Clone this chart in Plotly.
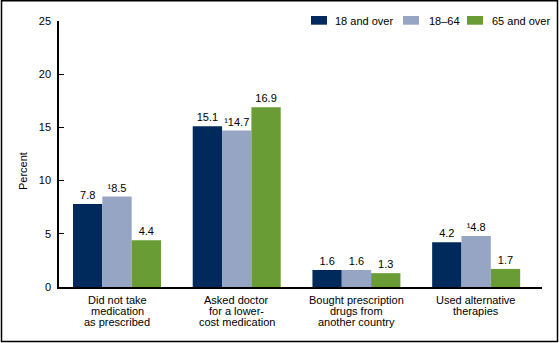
import plotly.graph_objects as go

# Categories and series
category_lines = [
    ["Did not take", "medication", "as prescribed"],
    ["Asked doctor", "for a lower-", "cost medication"],
    ["Bought prescription", "drugs from", "another country"],
    ["Used alternative", "therapies"],
]
series_names = ["18 and over", "18\u201364", "65 and over"]
values_18_over = [7.8, 15.1, 1.6, 4.2]
values_18_64 = [8.5, 14.7, 1.6, 4.8]
values_65_over = [4.4, 16.9, 1.3, 1.7]
# footnote flags (superscript 1) per value
flags_18_64 = [True, True, False, True]
y_ticks = [0, 5, 10, 15, 20, 25]

colors = ["#002A5C", "#97A5C4", "#6A9C35"]
FONT = "Liberation Sans, Arial, sans-serif"

# plot area in pixels
L, R, T, B = 59, 542, 21, 287
W, H = R - L, B - T


def px_x(p):
    return (p - L) / W


def px_y(p):
    return (B - p) / H


def labels(vals, flags=None):
    flags = flags or [False] * len(vals)
    return [("\u00b9" if f else "") + f"{v:.1f}" for v, f in zip(vals, flags)]


series = [
    (values_18_over, labels(values_18_over)),
    (values_18_64, labels(values_18_64, flags_18_64)),
    (values_65_over, labels(values_65_over)),
]

xs = list(range(len(category_lines)))
fig = go.Figure()
for name, (vals, txt), col in zip(series_names, series, colors):
    fig.add_trace(go.Bar(
        x=xs, y=vals, name=name, showlegend=False,
        marker=dict(color=col, line=dict(width=0)),
        text=txt, textposition="outside", cliponaxis=False,
        textfont=dict(family=FONT, size=11, color="#000000"),
        hoverinfo="skip",
    ))

annotations = [dict(
    text="Percent", xref="paper", yref="paper",
    x=px_x(23), y=px_y(171), xanchor="center", yanchor="middle",
    textangle=-90, showarrow=False, font=dict(family=FONT, size=11),
)]

# multi-line category labels with tight line spacing
line_y = [300, 311, 322]
for i, lines in enumerate(category_lines):
    for j, ln in enumerate(lines):
        annotations.append(dict(
            text=ln, xref="x", yref="paper", x=i, y=px_y(line_y[j]),
            xanchor="center", yanchor="middle", showarrow=False,
            font=dict(family=FONT, size=11),
        ))

shapes = [dict(
    type="rect", xref="paper", yref="paper",
    x0=px_x(1.5), x1=px_x(557.5), y0=px_y(341.5), y1=px_y(0.8),
    line=dict(color="#000000", width=1.5), layer="above",
)]

# legend: swatch + label
legend_pos = [(311, 333), (403, 427), (467, 490)]
for name, col, (sx, tx) in zip(series_names, colors, legend_pos):
    shapes.append(dict(
        type="rect", xref="paper", yref="paper",
        x0=px_x(sx), x1=px_x(sx + 16), y0=px_y(24.7), y1=px_y(16),
        fillcolor=col, line=dict(width=0),
    ))
    annotations.append(dict(
        text=name, xref="paper", yref="paper", x=px_x(tx), y=px_y(20.5),
        xanchor="left", yanchor="middle", showarrow=False,
        font=dict(family=FONT, size=11),
    ))

fig.update_layout(
    width=560, height=343,
    margin=dict(l=L, r=560 - R, t=T, b=343 - B, autoexpand=False),
    paper_bgcolor="white", plot_bgcolor="white",
    barmode="group", bargap=0.265, bargroupgap=0,
    font=dict(family=FONT, size=11, color="#000000"),
    showlegend=False,
    xaxis=dict(
        range=[-0.4845, 3.55], showticklabels=False,
        showline=True, linecolor="#000000", linewidth=1.5,
        ticks="", showgrid=False, zeroline=False,
    ),
    yaxis=dict(
        range=[0, 25], tickmode="array", tickvals=y_ticks,
        showline=True, linecolor="#000000", linewidth=1.5,
        ticks="inside", ticklen=5, tickcolor="#000000", tickwidth=1,
        ticklabelstandoff=4,
        showgrid=False, zeroline=False,
        tickfont=dict(family=FONT, size=11),
    ),
    annotations=annotations,
    shapes=shapes,
)

fig.write_html("out.html")
